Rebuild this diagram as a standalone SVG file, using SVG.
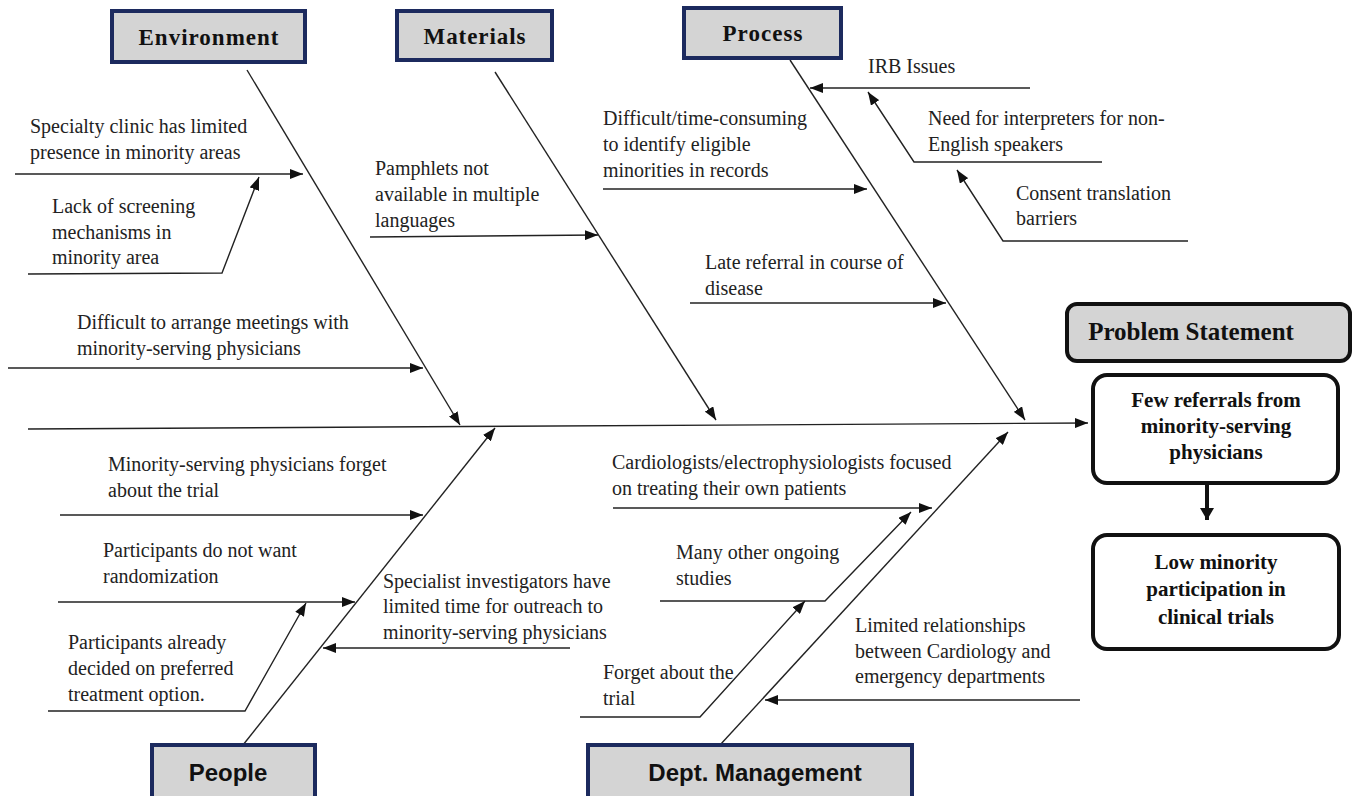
<svg xmlns="http://www.w3.org/2000/svg" width="1356" height="796" viewBox="0 0 1356 796">
<defs>
<marker id="a" markerUnits="userSpaceOnUse" markerWidth="13" markerHeight="10" refX="13" refY="5" orient="auto"><path d="M0,0 L13,5 L0,10 z" fill="#111"/></marker>
<marker id="b" markerUnits="userSpaceOnUse" markerWidth="14" markerHeight="14" refX="7" refY="12" orient="0"><path d="M0,0 L14,0 L7,12 z" fill="#111"/></marker>
<style>
.cat rect{fill:#d4d4d4;stroke:#1c2a5e;stroke-width:4}
.cs{font-family:"Liberation Serif",serif;font-weight:bold;font-size:23px;fill:#111;text-anchor:middle}
.ca{font-family:"Liberation Sans",sans-serif;font-weight:bold;font-size:24px;fill:#111;text-anchor:middle}
.t{font-family:"Liberation Serif",serif;font-size:20px;fill:#222}
.pb{font-family:"Liberation Serif",serif;font-weight:bold;font-size:21px;fill:#111;text-anchor:middle}
.ln{fill:none;stroke:#222;stroke-width:1.4}
.ar{marker-end:url(#a)}
</style>
</defs>
<rect width="1356" height="796" fill="#fff"/>
<g id="connectors">
<path class="ln ar" d="M28,429 L1088,423"/>
<path class="ln ar" d="M247,70 L460,425"/>
<path class="ln ar" d="M495,72 L716,420"/>
<path class="ln ar" d="M790,60 L1025,420"/>
<path class="ln ar" d="M243,745 L495,428"/>
<path class="ln ar" d="M720,745 L1008,432"/>
<path class="ln ar" d="M15,174 L303,174"/>
<path class="ln ar" d="M28,274 L222,273 L259,177"/>
<path class="ln ar" d="M8,368 L423,368"/>
<path class="ln ar" d="M370,237 L598,235"/>
<path class="ln ar" d="M603,189 L867,189"/>
<path class="ln ar" d="M690,303 L946,303"/>
<path class="ln ar" d="M1030,88 L810,88"/>
<path class="ln ar" d="M1102,162 L914,162 L868,92"/>
<path class="ln ar" d="M1188,241 L1003,241 L957,170"/>
<path class="ln ar" d="M60,515 L423,515"/>
<path class="ln ar" d="M58,602 L355,602"/>
<path class="ln ar" d="M48,711 L245,711 L306,603"/>
<path class="ln ar" d="M570,648 L323,648"/>
<path class="ln ar" d="M613,508 L932,508"/>
<path class="ln ar" d="M660,601 L825,601 L911,512"/>
<path class="ln ar" d="M580,717 L700,717 L805,601"/>
<path class="ln ar" d="M1080,700 L765,700"/>
<path d="M1207,483 L1207,520" stroke="#111" stroke-width="4" marker-end="url(#b)"/>
</g>
<g id="environment" class="cat"><rect x="112" y="11" width="193" height="51"/><text class="cs" x="208.5" y="45" textLength="140">Environment</text></g>
<g id="materials" class="cat"><rect x="397" y="11" width="155" height="49"/><text class="cs" x="474.5" y="44" textLength="102">Materials</text></g>
<g id="process" class="cat"><rect x="684" y="8" width="157" height="50"/><text class="cs" x="762.5" y="41" textLength="80">Process</text></g>
<g id="people" class="cat"><rect x="152" y="745" width="163" height="55"/><text class="ca" x="228" y="781">People</text></g>
<g id="dept-management" class="cat"><rect x="588" y="745" width="324" height="55"/><text class="ca" x="755" y="781">Dept. Management</text></g>
<g id="problem-statement"><rect x="1067" y="304" width="283" height="57" rx="10" fill="#d4d4d4" stroke="#111" stroke-width="4"/><text class="pb" x="1191" y="340" font-size="25" style="font-size:25px">Problem Statement</text></g>
<g id="few-referrals"><rect x="1093" y="375" width="245" height="108" rx="14" fill="#fff" stroke="#111" stroke-width="4"/><text class="pb" x="1216" y="407">Few referrals from</text><text class="pb" x="1216" y="433">minority-serving</text><text class="pb" x="1216" y="459">physicians</text></g>
<g id="low-participation"><rect x="1093" y="535" width="246" height="114" rx="14" fill="#fff" stroke="#111" stroke-width="4"/><text class="pb" x="1216" y="569">Low minority</text><text class="pb" x="1216" y="596">participation in</text><text class="pb" x="1216" y="624">clinical trials</text></g>
<g id="env-causes">
<text class="t" x="30" y="133">Specialty clinic has limited</text>
<text class="t" x="30" y="159">presence in minority areas</text>
<text class="t" x="52" y="213">Lack of screening</text>
<text class="t" x="52" y="239">mechanisms in</text>
<text class="t" x="52" y="264">minority area</text>
<text class="t" x="77" y="329">Difficult to arrange meetings with</text>
<text class="t" x="77" y="355">minority-serving physicians</text>
</g>
<g id="mat-causes">
<text class="t" x="375" y="175">Pamphlets not</text>
<text class="t" x="375" y="201">available in multiple</text>
<text class="t" x="375" y="227">languages</text>
</g>
<g id="proc-causes">
<text class="t" x="603" y="125">Difficult/time-consuming</text>
<text class="t" x="603" y="151">to identify eligible</text>
<text class="t" x="603" y="177">minorities in records</text>
<text class="t" x="705" y="269">Late referral in course of</text>
<text class="t" x="705" y="295">disease</text>
<text class="t" x="868" y="73">IRB Issues</text>
<text class="t" x="928" y="125">Need for interpreters for non-</text>
<text class="t" x="928" y="151">English speakers</text>
<text class="t" x="1016" y="200">Consent translation</text>
<text class="t" x="1016" y="225">barriers</text>
</g>
<g id="people-causes">
<text class="t" x="108" y="471">Minority-serving physicians forget</text>
<text class="t" x="108" y="497">about the trial</text>
<text class="t" x="103" y="557">Participants do not want</text>
<text class="t" x="103" y="583">randomization</text>
<text class="t" x="68" y="649">Participants already</text>
<text class="t" x="68" y="675">decided on preferred</text>
<text class="t" x="68" y="701">treatment option.</text>
<text class="t" x="383" y="588">Specialist investigators have</text>
<text class="t" x="383" y="613">limited time for outreach to</text>
<text class="t" x="383" y="639">minority-serving physicians</text>
</g>
<g id="dept-causes">
<text class="t" x="612" y="469">Cardiologists/electrophysiologists focused</text>
<text class="t" x="612" y="495">on treating their own patients</text>
<text class="t" x="676" y="559">Many other ongoing</text>
<text class="t" x="676" y="585">studies</text>
<text class="t" x="603" y="679">Forget about the</text>
<text class="t" x="603" y="705">trial</text>
<text class="t" x="855" y="632">Limited relationships</text>
<text class="t" x="855" y="658">between Cardiology and</text>
<text class="t" x="855" y="683">emergency departments</text>
</g>
</svg>
